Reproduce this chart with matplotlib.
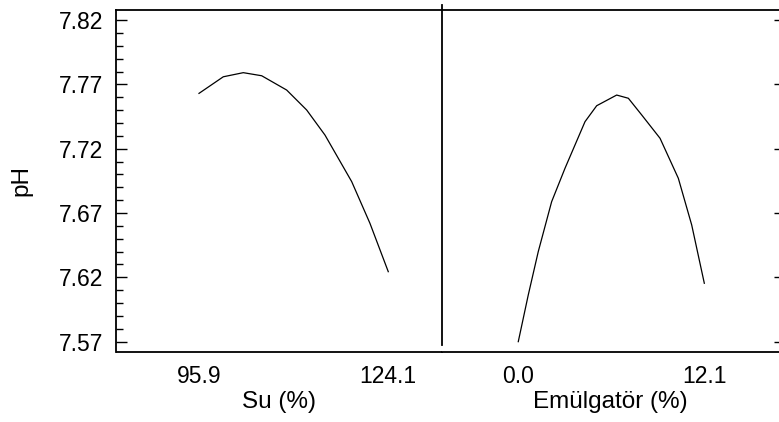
import matplotlib
matplotlib.use("Agg")
import matplotlib.pyplot as plt
from matplotlib.lines import Line2D
from matplotlib.ticker import MultipleLocator

plt.rcParams["font.family"] = ["Liberation Sans", "DejaVu Sans"]

# Fitted pH response versus water content
su_x = [95.9, 99.52, 102.50, 105.24, 108.96, 111.94, 114.67, 118.65, 121.37, 124.1]
su_ph = [7.7630, 7.7759, 7.7791, 7.7767, 7.7656, 7.7501, 7.7306, 7.6944, 7.6620, 7.6244]

# Fitted pH response versus emulsifier content
em_x = [0.0, 0.65, 1.30, 2.17, 3.04, 4.34, 5.10, 6.40, 7.16, 8.03, 9.22, 10.41, 11.28, 12.1]
em_ph = [7.5700, 7.6063, 7.6400, 7.6788, 7.7048, 7.7410, 7.7534, 7.7617, 7.7592,
         7.7462, 7.7281, 7.6970, 7.6607, 7.6154]

su_ticks = [95.9, 124.1]
em_ticks = [0.0, 12.1]
ph_ticks = [7.57, 7.62, 7.67, 7.72, 7.77, 7.82]

W, H = 779, 422
fig = plt.figure(figsize=(W / 100, H / 100), dpi=100)

def fx(px):
    return px / W

def fy(py):
    return 1 - py / H

top, bottom = 9.5, 351.7
xl, xm, xr = 116.5, 441.7, 779.5

ax1 = fig.add_axes([fx(xl), fy(bottom), fx(xm - xl), fy(top) - fy(bottom)])
ax2 = fig.add_axes([fx(xm), fy(bottom), fx(xr - xm), fy(top) - fy(bottom)], sharey=ax1)

ylim = (7.5622, 7.8282)
lw_frame = 1.3
tick_fs = 16.5
label_fs = 17.5

ax1.plot(su_x, su_ph, color="black", lw=0.9)
ax1.set_xlim(83.61, 132.06)
ax1.set_ylim(*ylim)
ax1.set_xticks(su_ticks)
ax1.set_xticklabels([f"{v:.1f}" for v in su_ticks])
ax1.set_yticks(ph_ticks)
ax1.set_yticklabels([f"{v:.2f}" for v in ph_ticks])
ax1.yaxis.set_minor_locator(MultipleLocator(0.01))
ax1.tick_params(axis="y", which="major", direction="in", length=8, width=1.0,
                labelsize=tick_fs, pad=9.5)
ax1.tick_params(axis="y", which="minor", direction="in", length=5, width=1.0)
ax1.tick_params(axis="x", length=0, labelsize=tick_fs, pad=9.5)
ax1.set_xlabel("Su (%)", fontsize=label_fs, labelpad=2.5)
ax1.set_ylabel("pH", fontsize=label_fs, labelpad=19)
for side in ("top", "right"):
    ax1.spines[side].set_visible(False)
for side in ("left", "bottom"):
    ax1.spines[side].set_linewidth(lw_frame)

ax2.plot(em_x, em_ph, color="black", lw=0.9)
ax2.set_xlim(-4.98, 16.99)
ax2.set_xticks(em_ticks)
ax2.set_xticklabels([f"{v:.1f}" for v in em_ticks])
ax2.yaxis.tick_right()
ax2.tick_params(axis="y", which="major", direction="in", length=4.5, width=1.0,
                labelright=False, labelleft=False, left=False, right=True)
ax2.tick_params(axis="y", which="minor", left=False, right=False)
ax2.tick_params(axis="x", length=0, labelsize=tick_fs, pad=9.5)
ax2.set_xlabel("Emülgatör (%)", fontsize=label_fs, labelpad=2.5)
for side in ("top", "left", "right"):
    ax2.spines[side].set_visible(False)
ax2.spines["bottom"].set_linewidth(lw_frame)

# Frame top edge across both panels and the panel divider
fig.add_artist(Line2D([fx(xl), 1.0], [fy(top), fy(top)], color="black",
                      lw=lw_frame, transform=fig.transFigure))
fig.add_artist(Line2D([fx(xm), fx(xm)], [fy(5), fy(345)], color="black",
                      lw=lw_frame, transform=fig.transFigure))

fig.savefig("out.png", dpi=100)
